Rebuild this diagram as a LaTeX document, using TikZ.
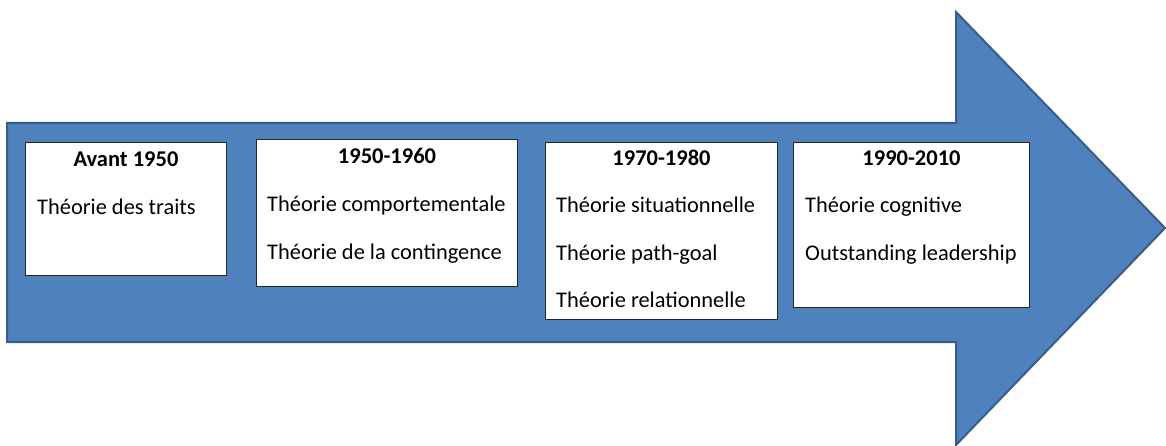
\documentclass[tikz,border=0pt]{standalone}
\usepackage{fontspec}
\setmainfont{Carlito}
\usepackage{tikz}
\usetikzlibrary{calc,positioning}
\definecolor{flecheBleu}{HTML}{4F81BD}
\definecolor{bordBleu}{HTML}{385D8A}

\begin{document}
\begin{tikzpicture}[x=1pt,y=-1pt,
    boite/.style={draw=black!85, fill=white, line width=1pt, anchor=north west, inner sep=0pt},
    titre/.style={font=\fontsize{22.5}{26}\selectfont\bfseries, anchor=base, inner sep=0pt},
    theorie/.style={font=\fontsize{22.4}{26}\selectfont, anchor=base west, inner sep=0pt}]

    \useasboundingbox (0,0) rectangle (1166,446);
%the big arrow
    \draw[fill=flecheBleu, draw=bordBleu, line width=2pt, line join=miter]
      (7,123) -- (956,123) -- (956,12) -- (1165,228) -- (956,445) -- (956,342) -- (7,342) -- cycle;

%the periods
    \node[boite, minimum width=201, minimum height=133] (b1) at (25,142) {};
    \node[boite, minimum width=261, minimum height=147] (b2) at (256,139) {};
    \node[boite, minimum width=232, minimum height=177] (b3) at (545,142) {};
    \node[boite, minimum width=236, minimum height=165] (b4) at (793,142) {};

%titles
    \node[titre] (t1) at ($(b1.north)+(0,25)$) {Avant 1950};
    \node[titre] (t2) at ($(b2.north)+(0,25)$) {1950-1960};
    \node[titre] (t3) at ($(b3.north)+(0,24)$) {1970-1980};
    \node[titre] (t4) at ($(b4.north)+(0,24)$) {1990-2010};

%the theories
    \def\pas{47}
    \node[theorie] (th11) at ($(b1.north west)+(12,73)$) {Théorie des traits};
    \node[theorie] (th21) at ($(b2.north west)+(11,73)$) {Théorie comportementale};
    \node[theorie] (th22) at ($(b2.north west)+(11,73+\pas)$) {Théorie de la contingence};
    \node[theorie] (th31) at ($(b3.north west)+(11,71)$) {Théorie situationnelle};
    \node[theorie] (th32) at ($(b3.north west)+(11,71+\pas)$) {Théorie path-goal};
    \node[theorie] (th33) at ($(b3.north west)+(11,71+2*\pas)$) {Théorie relationnelle};
    \node[theorie] (th41) at ($(b4.north west)+(12,71)$) {Théorie cognitive};
    \node[theorie] (th42) at ($(b4.north west)+(12,71+\pas)$) {Outstanding leadership};
\end{tikzpicture}
\end{document}
